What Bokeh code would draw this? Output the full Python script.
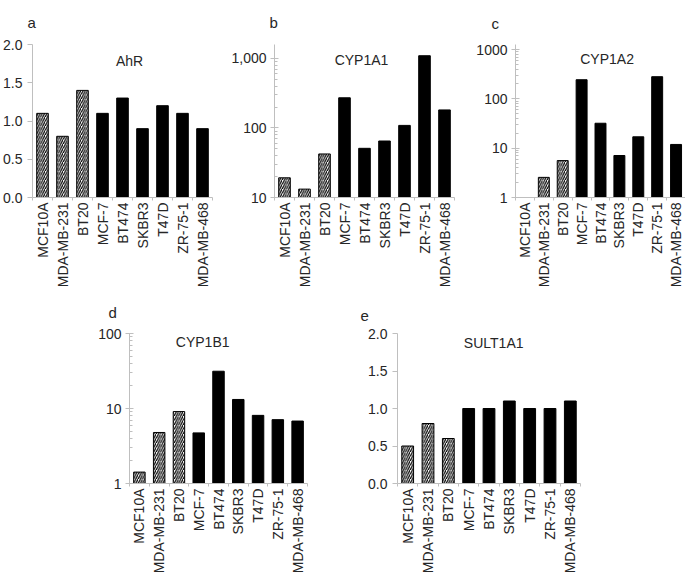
import math
from bokeh.plotting import figure
from bokeh.models import (Range1d, FixedTicker, NumeralTickFormatter, Label,
                          Spacer)
from bokeh.layouts import column, row
from bokeh.embed import file_html
from bokeh.resources import INLINE

# ---------------- data ----------------
cells = ["MCF10A", "MDA-MB-231", "BT20", "MCF-7", "BT474", "SKBR3",
         "T47D", "ZR-75-1", "MDA-MB-468"]
normal_like = ["MCF10A", "MDA-MB-231", "BT20"]   # hatched bars

ahr = [1.1, 0.8, 1.4, 1.1, 1.3, 0.9, 1.2, 1.1, 0.9]
cyp1a1 = [19.2, 13.2, 42.3, 272, 51, 65, 109, 1096, 182]
cyp1a2 = [1.0, 2.56, 5.6, 244, 32, 7.1, 17, 281, 11.9]
cyp1b1 = [1.42, 4.79, 9.1, 4.73, 31.4, 13.2, 8.1, 7.1, 6.8]
sult1a1 = [0.5, 0.8, 0.6, 1.0, 1.0, 1.1, 1.0, 1.0, 1.1]

lin_ticks = [0.0, 0.5, 1.0, 1.5, 2.0]

FONT = "Liberation Sans"
TXT = "#262626"
AXC = "#bfbfbf"


def log_minor(lo, hi):
    out = []
    d = lo
    while d < hi:
        for k in range(2, 10):
            out.append(k * d)
        d *= 10
    return out


def panel(values, title, letter, *, log, y0, y1, majors, fmt,
          fw, fh, bl, br, bt, bb, tx, ty, lx, lso):
    n = len(cells)
    xs = list(range(n))
    p = figure(frame_width=fw, frame_height=fh, output_backend="svg",
               toolbar_location=None,
               x_range=Range1d(-0.5, n - 0.5), y_range=Range1d(y0, y1),
               y_axis_type="log" if log else "linear",
               min_border_left=bl, min_border_right=br,
               min_border_top=bt, min_border_bottom=bb)
    p.outline_line_color = None
    p.xgrid.grid_line_color = None
    p.ygrid.grid_line_color = None
    p.background_fill_color = "white"
    p.border_fill_color = "white"

    # panel letter as the figure title
    p.title.text = letter
    p.title.align = "left"
    p.title.vertical_align = "top"
    p.title.offset = lx
    p.title.standoff = lso
    p.title.text_font = FONT
    p.title.text_font_size = "15px"
    p.title.text_font_style = "normal"
    p.title.text_color = TXT

    hx = [x for x, c, v in zip(xs, cells, values) if c in normal_like and v > y0]
    hv = [v for c, v in zip(cells, values) if c in normal_like and v > y0]
    sx = [x for x, c, v in zip(xs, cells, values) if c not in normal_like and v > y0]
    sv = [v for c, v in zip(cells, values) if c not in normal_like and v > y0]

    p.vbar(x=hx, top=hv, bottom=y0, width=0.58, fill_color="white",
           line_color="black", line_width=1,
           hatch_pattern="/", hatch_color="black", hatch_weight=1.2,
           hatch_scale=4.5)
    p.vbar(x=sx, top=sv, bottom=y0, width=0.58, fill_color="black",
           line_color="black", line_width=1)

    # x axis
    xa = p.xaxis[0]
    xa.ticker = FixedTicker(ticks=xs, minor_ticks=[i - 0.5 for i in range(n + 1)])
    xa.major_label_overrides = {i: c for i, c in enumerate(cells)}
    xa.major_label_orientation = math.pi / 2
    xa.major_tick_line_color = None
    xa.major_tick_in = 0
    xa.major_tick_out = 0
    xa.minor_tick_in = 0
    xa.minor_tick_out = 3
    xa.minor_tick_line_color = AXC
    xa.axis_line_color = AXC
    xa.major_label_standoff = 2
    xa.major_label_text_font = FONT
    xa.major_label_text_font_size = "14px"
    xa.major_label_text_color = TXT

    # y axis
    ya = p.yaxis[0]
    if log:
        ya.ticker = FixedTicker(ticks=majors, minor_ticks=log_minor(y0, y1))
        ya.major_tick_in = 4
        ya.major_tick_out = 4
        ya.minor_tick_in = 3
        ya.minor_tick_out = 0
        ya.major_label_standoff = 4
    else:
        ya.ticker = FixedTicker(ticks=majors, minor_ticks=[])
        ya.major_tick_in = 0
        ya.major_tick_out = 5
        ya.major_label_standoff = 5
    ya.formatter = NumeralTickFormatter(format=fmt)
    ya.axis_line_color = AXC
    ya.major_tick_line_color = AXC
    ya.minor_tick_line_color = AXC
    ya.major_label_text_font = FONT
    ya.major_label_text_font_size = "14px"
    ya.major_label_text_color = TXT

    p.add_layout(Label(x=tx, y=ty, text=title, text_align="center",
                       text_baseline="middle", text_font=FONT,
                       text_font_size="14px", text_color=TXT))
    return p


pa = panel(ahr, "AhR", "a", log=False, y0=0, y1=2.0, majors=lin_ticks,
           fmt="0.0", fw=180, fh=153, bl=30, br=16, bt=44, bb=80,
           tx=4.35, ty=1.79, lx=-5, lso=23)
pb = panel(cyp1a1, "CYP1A1", "b", log=True, y0=10, y1=1590,
           majors=[10, 100, 1000], fmt="0,0", fw=180, fh=153,
           bl=42, br=12, bt=44, bb=80, tx=3.85, ty=960, lx=-5, lso=23)
pc = panel(cyp1a2, "CYP1A2", "c", log=True, y0=1, y1=1263,
           majors=[1, 10, 100, 1000], fmt="0", fw=170, fh=153,
           bl=49, br=4, bt=44, bb=80, tx=4.35, ty=657, lx=-24, lso=22)
pd = panel(cyp1b1, "CYP1B1", "d", log=True, y0=1, y1=100,
           majors=[1, 10, 100], fmt="0", fw=178, fh=150,
           bl=45, br=49, bt=43, bb=80, tx=3.2, ty=76, lx=-21, lso=21)
pe = panel(sult1a1, "SULT1A1", "e", log=False, y0=0, y1=2.0, majors=lin_ticks,
           fmt="0.0", fw=183, fh=150, bl=41, br=10, bt=43, bb=80,
           tx=4.23, ty=1.87, lx=-37, lso=21)

layout = column(row(pa, pb, pc), row(Spacer(width=84, height=10), pd, pe))

open("out.html", "w").write(file_html(layout, INLINE))
